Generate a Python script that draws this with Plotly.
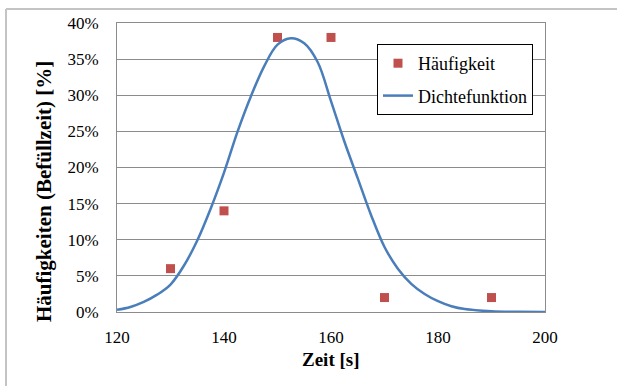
import plotly.graph_objects as go

# --- data ---
freq_time = [130, 140, 150, 160, 170, 190]
freq_pct = [6, 14, 38, 38, 2, 2]

curve_time = [120, 122.5, 125, 127.5, 130, 132.5, 135, 137.5, 140, 142.5, 145, 147.5,
              150, 152.5, 155, 157.5, 160, 162.5, 165, 167.5, 170, 172.5, 175, 177.5,
              180, 182.5, 185, 190, 195, 200]
curve_pct = [0.3, 0.7, 1.4, 2.4, 3.8, 6.4, 9.9, 14.3, 19.3, 24.9, 29.8, 34.0,
             37.0, 37.9, 37.2, 34.6, 29.2, 23.6, 18.5, 13.4, 9.0, 6.0, 3.9, 2.5,
             1.5, 0.8, 0.4, 0.1, 0.02, 0.0]

y_ticks = [0, 5, 10, 15, 20, 25, 30, 35, 40]
x_ticks = [120, 140, 160, 180, 200]

W, H = 617, 386
ML, MR, MT, MB = 117, 72, 23, 74
PW, PH = W - ML - MR, H - MT - MB


def px2x(px):
    return (px - ML) / PW


def py2y(py):
    return (H - MB - py) / PH


FONT = "Times New Roman"
GRID = "#8C8C8C"

fig = go.Figure()
fig.add_trace(go.Scatter(
    x=freq_time, y=freq_pct, mode="markers", name="Häufigkeit",
    marker=dict(symbol="square", size=9, color="#C0504D"),
    legendgroup="a",
))
fig.add_trace(go.Scatter(
    x=curve_time, y=curve_pct, mode="lines", name="Dichtefunktion",
    line=dict(color="#4A7EBB", width=2.5, shape="spline", smoothing=1.0),
    legendgroup="b",
))

fig.update_layout(
    width=W, height=H,
    margin=dict(l=ML, r=MR, t=MT, b=MB),
    paper_bgcolor="white", plot_bgcolor="white",
    font=dict(family=FONT, color="black", size=17),
    xaxis=dict(
        range=[120, 200], tickvals=x_ticks, ticktext=[str(v) for v in x_ticks],
        showgrid=False, zeroline=False, showline=True, linecolor=GRID, linewidth=1,
        mirror=True, ticks="", ticklabelstandoff=10,
        tickfont=dict(size=17, family=FONT),
    ),
    yaxis=dict(
        range=[0, 40], tickvals=y_ticks, ticktext=[f"{v}%" for v in y_ticks],
        showgrid=True, gridcolor=GRID, gridwidth=1, zeroline=False,
        showline=True, linecolor=GRID, linewidth=1, mirror=True,
        ticks="", ticklabelstandoff=14, tickfont=dict(size=17, family=FONT),
    ),
    legend=dict(
        x=px2x(377), y=py2y(44), xanchor="left", yanchor="top",
        bordercolor="black", borderwidth=1, bgcolor="white",
        font=dict(size=18, family=FONT), tracegroupgap=6,
    ),
    showlegend=True,
)

fig.add_annotation(
    text="Zeit [s]", x=px2x(331), y=py2y(359), xref="paper", yref="paper",
    showarrow=False, font=dict(size=19, family=FONT, weight="bold"),
    xanchor="center", yanchor="middle",
)
fig.add_annotation(
    text="Häufigkeiten (Befüllzeit) [%]", x=px2x(44), y=py2y(192),
    xref="paper", yref="paper", textangle=-90, showarrow=False,
    font=dict(size=21, family=FONT, weight="bold"),
    xanchor="center", yanchor="middle",
)

# outer frame lines of the figure
fig.add_shape(type="line", xref="paper", yref="paper",
              x0=px2x(6), x1=px2x(617), y0=py2y(9), y1=py2y(9),
              line=dict(color="#C4C4C4", width=2))
fig.add_shape(type="line", xref="paper", yref="paper",
              x0=px2x(6), x1=px2x(6), y0=py2y(9), y1=py2y(386),
              line=dict(color="#C4C4C4", width=2))

fig.write_html("out.html")
